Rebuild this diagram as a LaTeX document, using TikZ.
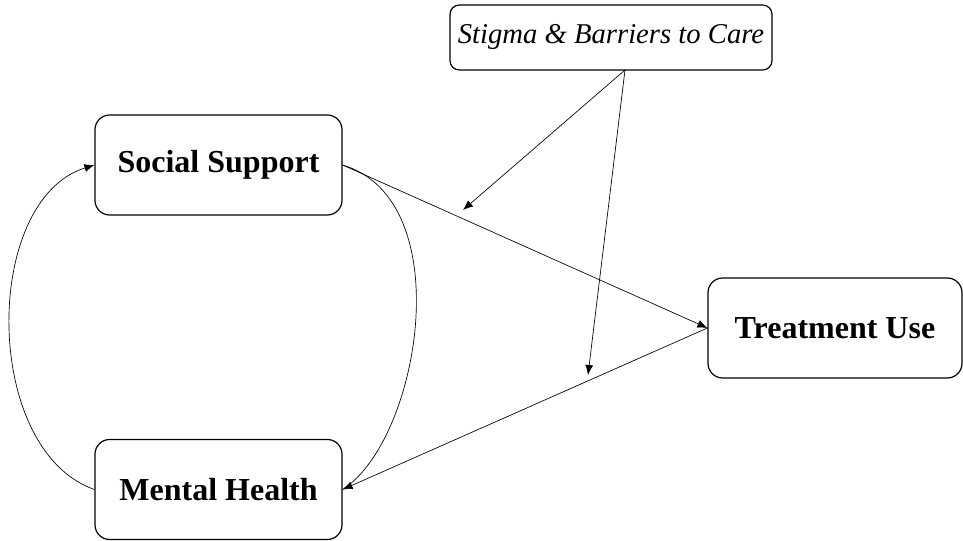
\documentclass[tikz,border=0pt]{standalone}
\usepackage{fontspec}
\setmainfont{Liberation Serif}
\usetikzlibrary{arrows.meta,positioning}

\begin{document}
\begin{tikzpicture}[
  x=0.75pt, y=-0.75pt,
  construct/.style={draw, line width=0.9pt, rounded corners=11pt, minimum width=185.25pt, minimum height=75pt, align=center, font=\fontsize{24}{28}\selectfont\bfseries},
  moderator/.style={draw, line width=0.9pt, rounded corners=7pt, minimum width=241.5pt, minimum height=48.75pt, align=center, font=\fontsize{21.5}{25}\selectfont\itshape},
  arrow/.style={-{Latex[length=7.5pt,width=6pt]}, line width=0.5pt}
]
\useasboundingbox (0,0) rectangle (963,541);
\node[moderator] (stigma) at (611,37.5) {Stigma \& Barriers to Care};
\node[construct] (support) at (218.5,165) {Social Support};
\node[construct] (mental) at (218.5,489.5) {Mental Health};
\node[construct, minimum width=190.5pt] (treat) at (835,328) {Treatment Use};

\coordinate (src) at (625,70);
\coordinate (m1) at (463,210);
\coordinate (m2) at (588,375);

\draw[arrow] (support.east) -- (treat.west);
\draw[arrow] (treat.west) -- (mental.east);
\draw[line width=0.5pt] (support.east) .. controls (460,200) and (420,440) .. (mental.east);
\draw[arrow] (mental.west) .. controls (-18,450) and (-18,200) .. (support.west);
\draw[arrow] (src) -- (m1);
\draw[arrow] (src) -- (m2);
\end{tikzpicture}
\end{document}
